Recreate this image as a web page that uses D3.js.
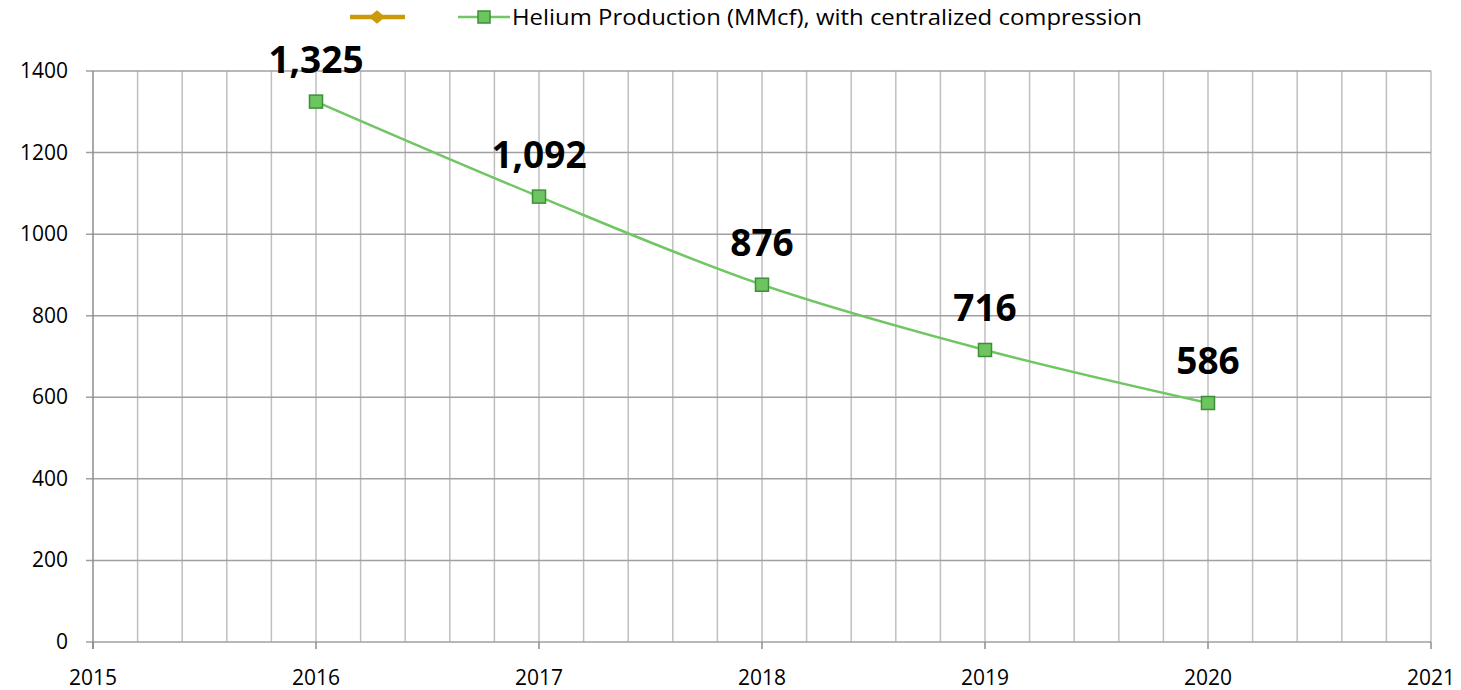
<!DOCTYPE html>
<html><head><meta charset="utf-8">
<script src="https://cdn.jsdelivr.net/npm/d3@7"></script>
<style>body{margin:0;background:#fff}svg{display:block}text{font-family:"Open Sans","Noto Sans",sans-serif}</style>
</head><body><svg id="c" width="1461" height="690"></svg>
<script>
const years = [2016, 2017, 2018, 2019, 2020];
const helium = [1325, 1092, 876, 716, 586];
const labels = ["1,325", "1,092", "876", "716", "586"];
const yTicks = [0, 200, 400, 600, 800, 1000, 1200, 1400];
const xTicks = [2015, 2016, 2017, 2018, 2019, 2020, 2021];
const legendNames = ["", "Helium Production (MMcf), with centralized compression"];

const svg = d3.select("#c");
const x = d3.scaleLinear().domain([2015, 2021]).range([93, 1431]);
const y = d3.scaleLinear().domain([0, 1400]).range([642, 71]);

// minor vertical grid
const minor = d3.range(2015, 2021.001, 0.2);
svg.append("g").selectAll("line").data(minor.slice(1)).join("line")
  .attr("x1", d => x(d)).attr("x2", d => x(d)).attr("y1", y(1400)).attr("y2", y(0))
  .attr("stroke", "#bfbfbf").attr("stroke-width", 1.5);
// horizontal grid
svg.append("g").selectAll("line").data(yTicks).join("line")
  .attr("x1", 86).attr("x2", x(2021)).attr("y1", d => y(d)).attr("y2", d => y(d))
  .attr("stroke", "#a0a0a0").attr("stroke-width", 1.5);
// y axis line
svg.append("line").attr("x1", x(2015)).attr("x2", x(2015)).attr("y1", y(1400)).attr("y2", 649)
  .attr("stroke", "#8c8c8c").attr("stroke-width", 1.5);
// x tick marks
svg.append("g").selectAll("line").data(xTicks).join("line")
  .attr("x1", d => x(d)).attr("x2", d => x(d)).attr("y1", y(0)).attr("y2", 649)
  .attr("stroke", "#8c8c8c").attr("stroke-width", 1.5);

// axis labels
svg.append("g").selectAll("text").data(yTicks).join("text")
  .attr("x", 68).attr("y", d => y(d) + 7).attr("text-anchor", "end")
  .attr("font-size", 21).attr("fill", "#000").text(d => d);
svg.append("g").selectAll("text").data(xTicks).join("text")
  .attr("x", d => x(d)).attr("y", 685).attr("text-anchor", "middle")
  .attr("font-size", 21).attr("fill", "#000").text(d => d);

const pts = years.map((yr, i) => [x(yr), y(helium[i])]);
svg.append("path").attr("d", d3.line().curve(d3.curveCatmullRom.alpha(0.5))(pts))
  .attr("fill", "none").attr("stroke", "#6fc662").attr("stroke-width", 2.5);
svg.append("g").selectAll("rect").data(pts).join("rect")
  .attr("x", d => d[0] - 6.5).attr("y", d => d[1] - 6.5).attr("width", 13).attr("height", 13)
  .attr("fill", "#6cc55f").attr("stroke", "#3e8e37").attr("stroke-width", 1.5);
svg.append("g").selectAll("text").data(pts).join("text")
  .attr("x", d => d[0]).attr("y", d => d[1] - 29).attr("text-anchor", "middle")
  .attr("font-size", 37).attr("font-weight", "bold").attr("fill", "#000")
  .text((d, i) => labels[i]);

// legend
const lg = svg.append("g");
lg.append("line").attr("x1", 350).attr("x2", 405).attr("y1", 17).attr("y2", 17)
  .attr("stroke", "#cc9a06").attr("stroke-width", 4.5);
lg.append("path").attr("d", d3.symbol(d3.symbolSquare, 110)()).attr("transform", "translate(377,17) scale(1.1,0.9) rotate(45)")
  .attr("fill", "#cc9a06");
lg.append("line").attr("x1", 458).attr("x2", 510).attr("y1", 17).attr("y2", 17)
  .attr("stroke", "#6fc662").attr("stroke-width", 2.5);
lg.append("rect").attr("x", 484 - 6).attr("y", 11).attr("width", 12).attr("height", 12)
  .attr("fill", "#6cc55f").attr("stroke", "#3e8e37").attr("stroke-width", 1.5);
lg.append("text").attr("x", 512).attr("y", 25).attr("font-size", 21).attr("fill", "#000")
  .attr("textLength", 630).attr("lengthAdjust", "spacingAndGlyphs").text(legendNames[1]);
</script></body></html>
